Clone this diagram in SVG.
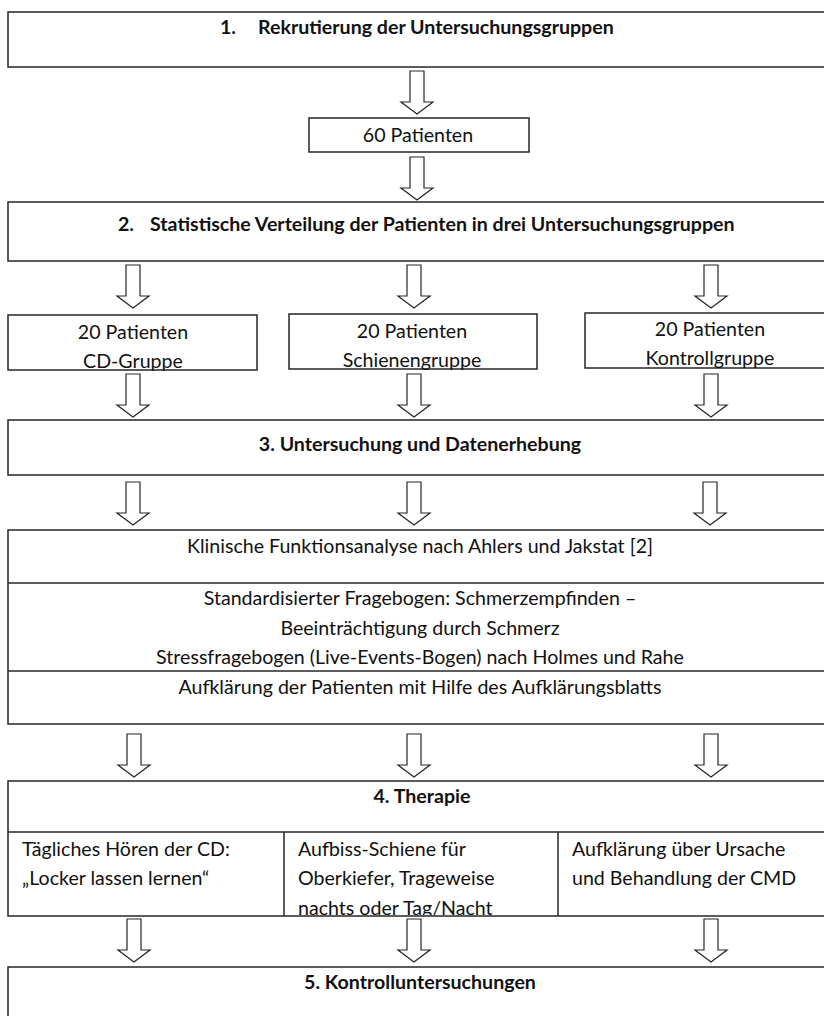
<svg xmlns="http://www.w3.org/2000/svg" xmlns:xlink="http://www.w3.org/1999/xlink" width="824" height="1016" viewBox="0 0 824 1016">
<style>
.box{fill:#fff;stroke:#262626;stroke-width:1.5}
.ln{stroke:#262626;stroke-width:1.5;fill:none}
.arr{fill:#fff;stroke:#262626;stroke-width:1.2;stroke-linejoin:miter}
text{font-family:Lato,"Open Sans","Liberation Sans",sans-serif;font-size:19.6px;fill:#111}
.b{font-weight:bold}
.m{text-anchor:middle}
</style>
<defs>
<path id="arr" class="arr" d="M-7,-43 h14 v31 h9 l-16,12 l-16,-12 h9 z"/>
<clipPath id="clipCells"><rect x="0" y="832" width="824" height="83"/></clipPath>
</defs>
<rect width="824" height="1016" fill="#fff"/>

<g id="connectors">
<use href="#arr" x="417" y="114"/>
<use href="#arr" x="417" y="200"/>
<use href="#arr" x="133" y="308"/>
<use href="#arr" x="414" y="308"/>
<use href="#arr" x="711" y="308"/>
<use href="#arr" x="133" y="417"/>
<use href="#arr" x="414" y="417"/>
<use href="#arr" x="711" y="417"/>
<use href="#arr" x="133" y="525"/>
<use href="#arr" x="414" y="525"/>
<use href="#arr" x="710" y="525"/>
<use href="#arr" x="134" y="777"/>
<use href="#arr" x="414" y="777"/>
<use href="#arr" x="711" y="777"/>
<use href="#arr" x="134" y="962"/>
<use href="#arr" x="414" y="962"/>
<use href="#arr" x="711" y="962"/>
</g>

<g id="step1">
<rect class="box" x="8" y="12" width="830" height="55"/>
<text class="b" y="34"><tspan x="220">1.</tspan><tspan x="258">Rekrutierung der Untersuchungsgruppen</tspan></text>
</g>

<g id="patients60">
<rect class="box" x="309" y="118" width="220" height="34"/>
<text class="m" x="418" y="142">60 Patienten</text>
</g>

<g id="step2">
<rect class="box" x="8" y="202" width="830" height="59"/>
<text class="b" y="231"><tspan x="118">2.</tspan><tspan x="150">Statistische Verteilung der Patienten in drei Untersuchungsgruppen</tspan></text>
</g>

<g id="groupCD">
<rect class="box" x="8" y="315" width="249" height="55"/>
<text class="m" x="133" y="339">20 Patienten</text>
<text class="m" x="133" y="368">CD-Gruppe</text>
</g>

<g id="groupSchiene">
<rect class="box" x="289" y="314" width="248" height="55"/>
<text class="m" x="412" y="338">20 Patienten</text>
<text class="m" x="412" y="367">Schienengruppe</text>
</g>

<g id="groupKontroll">
<rect class="box" x="585" y="313" width="250" height="55"/>
<text class="m" x="710" y="336">20 Patienten</text>
<text class="m" x="710" y="365">Kontrollgruppe</text>
</g>

<g id="step3">
<rect class="box" x="8" y="420" width="830" height="55"/>
<text class="b m" x="420" y="451">3. Untersuchung und Datenerhebung</text>
</g>

<g id="examination">
<rect class="box" x="8" y="530" width="830" height="194"/>
<line class="ln" x1="8" y1="583" x2="824" y2="583"/>
<line class="ln" x1="8" y1="671" x2="824" y2="671"/>
<text class="m" x="420" y="553">Klinische Funktionsanalyse nach Ahlers und Jakstat [2]</text>
<text class="m" x="420" y="605">Standardisierter Fragebogen: Schmerzempfinden –</text>
<text class="m" x="420" y="635">Beeinträchtigung durch Schmerz</text>
<text class="m" x="420" y="664">Stressfragebogen (Live-Events-Bogen) nach Holmes und Rahe</text>
<text class="m" x="420" y="694">Aufklärung der Patienten mit Hilfe des Aufklärungsblatts</text>
</g>

<g id="step4">
<rect class="box" x="8" y="781" width="830" height="135"/>
<line class="ln" x1="8" y1="832" x2="824" y2="832"/>
<line class="ln" x1="284" y1="832" x2="284" y2="916"/>
<line class="ln" x1="558" y1="832" x2="558" y2="916"/>
<text class="b m" x="422" y="803">4. Therapie</text>
<g clip-path="url(#clipCells)">
<text x="22" y="856">Tägliches Hören der CD:</text>
<text x="22" y="885">„Locker lassen lernen“</text>
<text x="298" y="856">Aufbiss-Schiene für</text>
<text x="298" y="885">Oberkiefer, Trageweise</text>
<text x="298" y="915">nachts oder Tag/Nacht</text>
<text x="572" y="856">Aufklärung über Ursache</text>
<text x="572" y="885">und Behandlung der CMD</text>
</g>
</g>

<g id="step5">
<rect class="box" x="8" y="967" width="830" height="70"/>
<text class="b m" x="420" y="989">5. Kontrolluntersuchungen</text>
</g>
</svg>
